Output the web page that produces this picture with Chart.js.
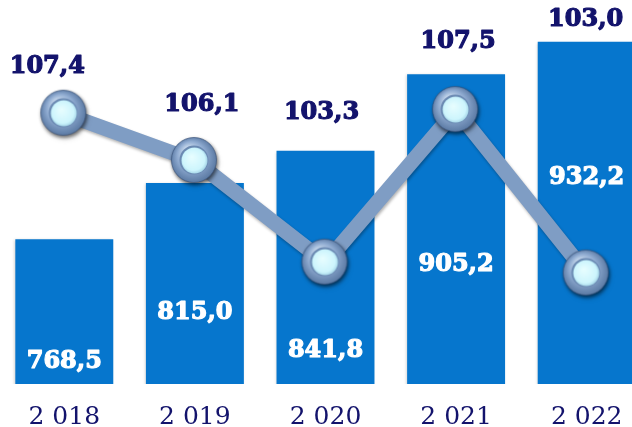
<!DOCTYPE html>
<html>
<head>
<meta charset="utf-8">
<script src="https://cdn.jsdelivr.net/npm/chart.js@4.4.1/dist/chart.umd.min.js"></script>
<style>
  html, body { margin: 0; padding: 0; background: #fff; overflow: hidden; }
  #wrap { position: absolute; left: -1px; top: 0; }
</style>
</head>
<body>
<div id="wrap"><canvas id="chart" width="653" height="450"></canvas></div>
<script>
// Данные
const years = ["2 018", "2 019", "2 020", "2 021", "2 022"];
const volume = [768.5, 815.0, 841.8, 905.2, 932.2];   // столбцы
const index = [107.4, 106.1, 103.3, 107.5, 103.0];    // линия

// сдвиги подписей (px) — как в исходной картинке
const barLabelDrop = [123, 130, 200, 190, 136];            // от верха столбца вниз
const lineLabelShift = [[-17, -47], [7, -56], [-4, -150], [2, -68], [-1, -254]]; // от точки

const fmt = v => v.toFixed(1).replace(".", ",");
const NAVY = "#13136c";
const BLUE = "#0676cd";

// "шарик" для маркера
function makeSphere() {
  const c = document.createElement("canvas");
  c.width = 58; c.height = 58;
  const g = c.getContext("2d");
  const cx = 28, cy = 28;
  g.save();
  g.shadowColor = "rgba(0,0,0,0.45)";
  g.shadowBlur = 4;
  g.shadowOffsetX = 1;
  g.shadowOffsetY = 2;
  const outer = g.createRadialGradient(cx - 6, cy - 10, 2, cx, cy, 24);
  outer.addColorStop(0, "#d2e1f2");
  outer.addColorStop(0.55, "#8eaad0");
  outer.addColorStop(1, "#56759f");
  g.fillStyle = outer;
  g.beginPath(); g.arc(cx, cy, 22.5, 0, Math.PI * 2); g.fill();
  g.restore();
  g.strokeStyle = "rgba(60,85,125,0.7)";
  g.lineWidth = 1;
  g.beginPath(); g.arc(cx, cy, 22.5, 0, Math.PI * 2); g.stroke();
  // впадина
  g.fillStyle = "#6a89b2";
  g.beginPath(); g.arc(cx, cy, 14.5, 0, Math.PI * 2); g.fill();
  const inner = g.createRadialGradient(cx - 2, cy - 3, 1, cx, cy, 13.5);
  inner.addColorStop(0, "#e6fdff");
  inner.addColorStop(0.8, "#cdf5fd");
  inner.addColorStop(1, "#a9d8ea");
  g.fillStyle = inner;
  g.beginPath(); g.arc(cx + 0.5, cy + 0.5, 13, 0, Math.PI * 2); g.fill();
  return c;
}

// тени для столбцов и линии
const shadowPlugin = {
  id: "shadows",
  beforeDatasetDraw(chart, args) {
    const ctx = chart.ctx;
    ctx.save();
    if (args.meta.type === "bar") {
      ctx.shadowColor = "rgba(0,0,0,0.2)";
      ctx.shadowBlur = 3;
      ctx.shadowOffsetX = -1;
      ctx.shadowOffsetY = 1;
    } else {
      ctx.shadowColor = "rgba(0,0,0,0.3)";
      ctx.shadowBlur = 3;
      ctx.shadowOffsetX = 1;
      ctx.shadowOffsetY = 2;
    }
  },
  afterDatasetDraw(chart) {
    chart.ctx.restore();
  }
};

// подписи значений
const labelPlugin = {
  id: "valueLabels",
  afterDatasetsDraw(chart) {
    const ctx = chart.ctx;
    const bars = chart.getDatasetMeta(0).data;
    const pts = chart.getDatasetMeta(1).data;
    ctx.save();
    ctx.font = "bold 24px 'DejaVu Serif'";
    ctx.textAlign = "center";
    ctx.textBaseline = "middle";
    ctx.lineWidth = 1.2;
    ctx.lineJoin = "round";
    bars.forEach((b, i) => {
      ctx.fillStyle = ctx.strokeStyle = "#ffffff";
      const y = b.y + barLabelDrop[i];
      ctx.strokeText(fmt(volume[i]), b.x, y);
      ctx.fillText(fmt(volume[i]), b.x, y);
    });
    pts.forEach((p, i) => {
      ctx.fillStyle = ctx.strokeStyle = NAVY;
      const x = p.x + lineLabelShift[i][0], y = p.y + lineLabelShift[i][1];
      ctx.strokeText(fmt(index[i]), x, y);
      ctx.fillText(fmt(index[i]), x, y);
    });
    ctx.restore();
  }
};

new Chart(document.getElementById("chart"), {
  data: {
    labels: years,
    datasets: [
      {
        type: "bar",
        data: volume,
        backgroundColor: BLUE,
        barPercentage: 0.75,
        categoryPercentage: 1,
        yAxisID: "y",
        order: 1
      },
      {
        type: "line",
        data: index,
        borderColor: "#7f9dc4",
        borderWidth: 15,
        borderJoinStyle: "round",
        tension: 0,
        pointStyle: makeSphere(),
        pointRadius: 23,
        yAxisID: "y2",
        order: 0
      }
    ]
  },
  options: {
    responsive: false,
    animation: false,
    layout: { padding: 0, autoPadding: false },
    plugins: {
      legend: { display: false },
      tooltip: { enabled: false }
    },
    scales: {
      x: {
        grid: { display: false, drawTicks: false },
        border: { display: false },
        ticks: {
          padding: 18,
          color: NAVY,
          font: { family: "'DejaVu Serif'", size: 25, lineHeight: 1.2 }
        }
      },
      y: { display: false, min: 648.4, max: 966.8 },
      y2: { display: false, min: 99.96, max: 110.53 }
    }
  },
  plugins: [shadowPlugin, labelPlugin]
});
</script>
</body>
</html>
